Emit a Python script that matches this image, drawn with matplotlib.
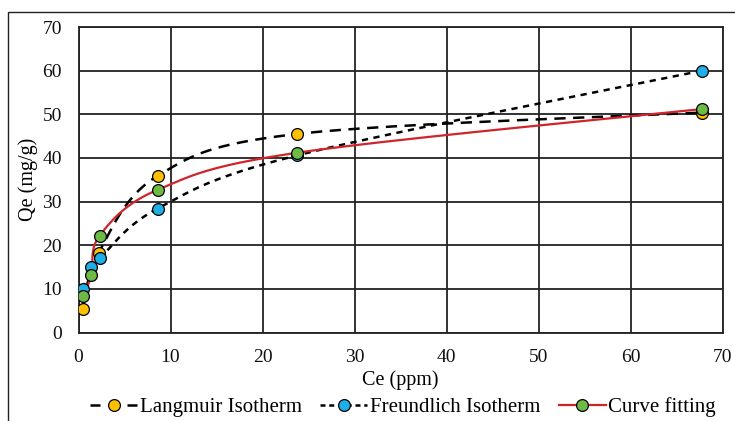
import numpy as np
import matplotlib.pyplot as plt
from matplotlib.patches import Rectangle

plt.rcParams['font.family'] = ['Liberation Serif', 'DejaVu Serif']

# equilibrium concentration (ppm) and uptake (mg/g)
ce = [0.45, 1.4, 2.3, 8.6, 23.8, 67.8]
qe_freundlich = [10.0, 14.9, 17.0, 28.4, 40.6, 60.0]
qe_fit = [8.3, 13.1, 22.2, 32.7, 41.2, 51.2]

ce_lang = [0.45, 2.2, 8.6, 23.8, 67.8]
qe_lang = [5.3, 18.3, 35.9, 45.5, 50.4]


def smooth(x, y, n=40):
    # Catmull-Rom style bezier through the points
    x = np.asarray(x, float)
    y = np.asarray(y, float)
    px = np.concatenate([[x[0]], x, [x[-1]]])
    py = np.concatenate([[y[0]], y, [y[-1]]])
    xs, ys = [], []
    t = np.linspace(0, 1, n)
    for i in range(1, len(px) - 2):
        p0 = np.array([px[i], py[i]])
        p3 = np.array([px[i + 1], py[i + 1]])
        c1 = p0 + (np.array([px[i + 1], py[i + 1]]) - np.array([px[i - 1], py[i - 1]])) / 6
        c2 = p3 - (np.array([px[i + 2], py[i + 2]]) - np.array([px[i], py[i]])) / 6
        b = ((1 - t) ** 3)[:, None] * p0 + (3 * (1 - t) ** 2 * t)[:, None] * c1 \
            + (3 * (1 - t) * t ** 2)[:, None] * c2 + (t ** 3)[:, None] * p3
        xs.extend(b[:, 0])
        ys.extend(b[:, 1])
    return xs, ys


fig = plt.figure(figsize=(7.35, 4.21), dpi=100)
ax = fig.add_axes([78.5 / 735, 1 - 332.5 / 421, 644 / 735, 305.5 / 421])
fig.add_artist(Rectangle((8 / 735, -0.1), 1.2, 1 - 12 / 421 + 0.1,
                         transform=fig.transFigure, fill=False, lw=1.0, ec='#222222'))

mk = dict(marker='o', ms=8.5, mec='black', mew=0.9, ls='none', zorder=4)

lx, ly = smooth(ce_lang, qe_lang)
ax.plot(lx, ly, color='black', lw=1.8, dashes=(4.5, 3), zorder=3)
fx, fy = smooth(ce, qe_freundlich)
ax.plot(fx, fy, color='black', lw=1.8, dashes=(2.5, 2.2), zorder=3)
cx, cy = smooth(ce, qe_fit)
ax.plot(cx, cy, color='#D0242B', lw=1.6, zorder=3)

ax.plot(ce_lang, qe_lang, mfc='#FFC000', **mk)
ax.plot(ce, qe_freundlich, mfc='#1FAEE8', **mk)
ax.plot(ce, qe_fit, mfc='#6DBB45', **mk)

ax.set_xlim(0, 70)
ax.set_ylim(0, 70)
ax.set_xticks(range(0, 71, 10))
ax.set_yticks(range(0, 71, 10))
ax.grid(True, color='#222222', lw=1.3)
ax.set_axisbelow(True)
for s in ax.spines.values():
    s.set_color('#222222')
    s.set_linewidth(1.3)
ax.tick_params(length=0, labelsize=14, pad=12, colors='#111111')
ax.set_xlabel('Ce (ppm)', fontsize=14.5, labelpad=3)
ax.set_ylabel('Qe (mg/g)', fontsize=14.5, labelpad=3)

# legend handles
h1, = ax.plot([], [], color='black', lw=1.8, dashes=(4, 10.8), marker='o', ms=8.5,
              mfc='#FFC000', mec='black', mew=0.9)
h2, = ax.plot([], [], color='black', lw=1.8, dashes=(2.0, 1.5), marker='o', ms=8.5,
              mfc='#1FAEE8', mec='black', mew=0.9)
h3, = ax.plot([], [], color='#D0242B', lw=1.6, marker='o', ms=8.5,
              mfc='#6DBB45', mec='black', mew=0.9)
fig.legend([h1, h2, h3], ['Langmuir Isotherm', 'Freundlich Isotherm', 'Curve fitting'],
           loc='center', bbox_to_anchor=(403 / 735, 1 - 407 / 421), ncol=3,
           frameon=False, fontsize=15, handlelength=2.25, handletextpad=0.12,
           columnspacing=0.9)

fig.savefig('out.png', dpi=100)
